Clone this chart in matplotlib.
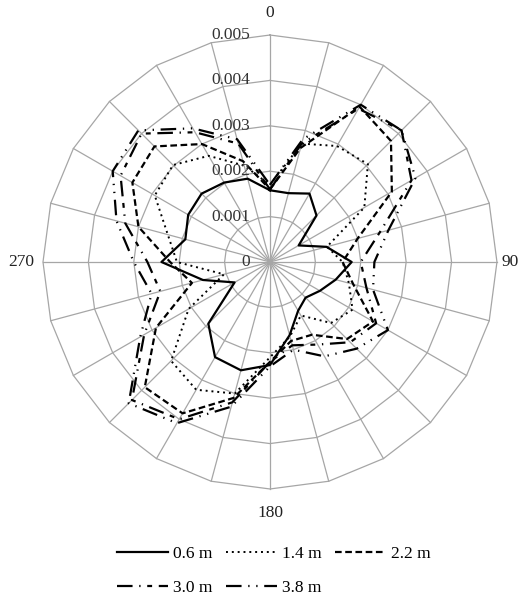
import matplotlib.pyplot as plt
import numpy as np

plt.rcParams['font.family'] = ['Liberation Serif', 'DejaVu Serif']

# directions in degrees, clockwise from north
angles = list(range(0, 360, 15))

h06 = [0.00158, 0.00157, 0.00174, 0.00145, 0.00073, 0.00129, 0.00180, 0.00150,
       0.00127, 0.00111, 0.00124, 0.00167, 0.00227, 0.00247, 0.00242, 0.00192,
       0.00090, 0.00153, 0.00239, 0.00193, 0.00208, 0.00213, 0.00202, 0.00190]
h14 = [0.00170, 0.00270, 0.00295, 0.00305, 0.00240, 0.00130, 0.00160, 0.00180,
       0.00210, 0.00190, 0.00136, 0.00170, 0.00210, 0.00300, 0.00325, 0.00308,
       0.00207, 0.00105, 0.00205, 0.00233, 0.00293, 0.00302, 0.00270, 0.00220]
h22 = [0.00160, 0.00260, 0.00395, 0.00377, 0.00310, 0.00200, 0.00160, 0.00190,
       0.00262, 0.00240, 0.00185, 0.00180, 0.00220, 0.00310, 0.00385, 0.00390,
       0.00290, 0.00178, 0.00220, 0.00300, 0.00350, 0.00360, 0.00300, 0.00230]
h30 = [0.00160, 0.00270, 0.00390, 0.00410, 0.00360, 0.00250, 0.00200, 0.00220,
       0.00270, 0.00250, 0.00210, 0.00190, 0.00220, 0.00320, 0.00400, 0.00430,
       0.00320, 0.00250, 0.00270, 0.00330, 0.00380, 0.00400, 0.00330, 0.00270]
h38 = [0.00170, 0.00280, 0.00400, 0.00410, 0.00370, 0.00270, 0.00230, 0.00235,
       0.00300, 0.00270, 0.00240, 0.00200, 0.00230, 0.00330, 0.00410, 0.00440,
       0.00330, 0.00270, 0.00300, 0.00350, 0.00400, 0.00410, 0.00340, 0.00280]

labels = ['0.6 m', '1.4 m', '2.2 m', '3.0 m', '3.8 m']
rings = [0, 0.001, 0.002, 0.003, 0.004, 0.005]
ring_labels = ['0', '0.001', '0.002', '0.003', '0.004', '0.005']
cat_labels = {0: '0', 90: '90', 180: '180', 270: '270'}

fig = plt.figure(figsize=(5.23, 6.11), dpi=100)
ax = fig.add_axes([0.0822, 0.1997, 0.868, 0.743], projection='polar')
ax.set_theta_zero_location('N')
ax.set_theta_direction(-1)
ax.set_ylim(0, 0.005)
ax.grid(False)
ax.spines['polar'].set_visible(False)
ax.set_xticks([])
ax.set_yticks([])

theta = np.deg2rad(angles)
closed = np.append(theta, theta[0])
gc = '#a6a6a6'
for r in rings[1:]:
    ax.plot(closed, [r] * len(closed), color=gc, lw=0.9, zorder=1, clip_on=False)
for t in theta:
    ax.plot([t, t], [0, 0.005], color=gc, lw=0.9, zorder=1, clip_on=False)

styles = ['-', (0, (1, 2)), (0, (3, 1.6)), (0, (7, 3, 0.6, 3, 2.2, 3)), (0, (7, 3, 0.6, 3, 0.6, 3))]
widths = [1.6, 1.4, 1.6, 1.6, 1.6]
lines = []
for vals, lab, ls, lw in zip([h06, h14, h22, h30, h38], labels, styles, widths):
    v = list(vals) + [vals[0]]
    ln, = ax.plot(closed, v, color='black', lw=lw, ls=ls, label=lab, zorder=3, clip_on=False)
    lines.append(ln)

for r, s in zip(rings, ring_labels):
    ax.annotate(s, xy=(0, r), xytext=(-14.5, 0), textcoords='offset points',
                ha='right', va='center', fontsize=12.5, color='#333333', zorder=4)

offs = {0: (0, 16, 'center', 'center'), 90: (3.5, 0, 'left', 'center'),
        180: (0, -17, 'center', 'center'), 270: (-6, 0, 'right', 'center')}
for a, s in cat_labels.items():
    dx, dy, ha, va = offs[a]
    ax.annotate(s, xy=(np.deg2rad(a), 0.005), xytext=(dx, dy), textcoords='offset points',
                ha=ha, va=va, fontsize=12.5, color='#222222', annotation_clip=False)

order = [0, 3, 1, 4, 2]
fig.legend([lines[i] for i in order], [labels[i] for i in order], loc='center',
           bbox_to_anchor=(274 / 523, 1 - 571 / 611), ncol=3, frameon=False,
           fontsize=12.5, handlelength=2.9, handletextpad=0.3, columnspacing=0.8,
           labelspacing=1.0)

fig.savefig('out.png', dpi=100)
